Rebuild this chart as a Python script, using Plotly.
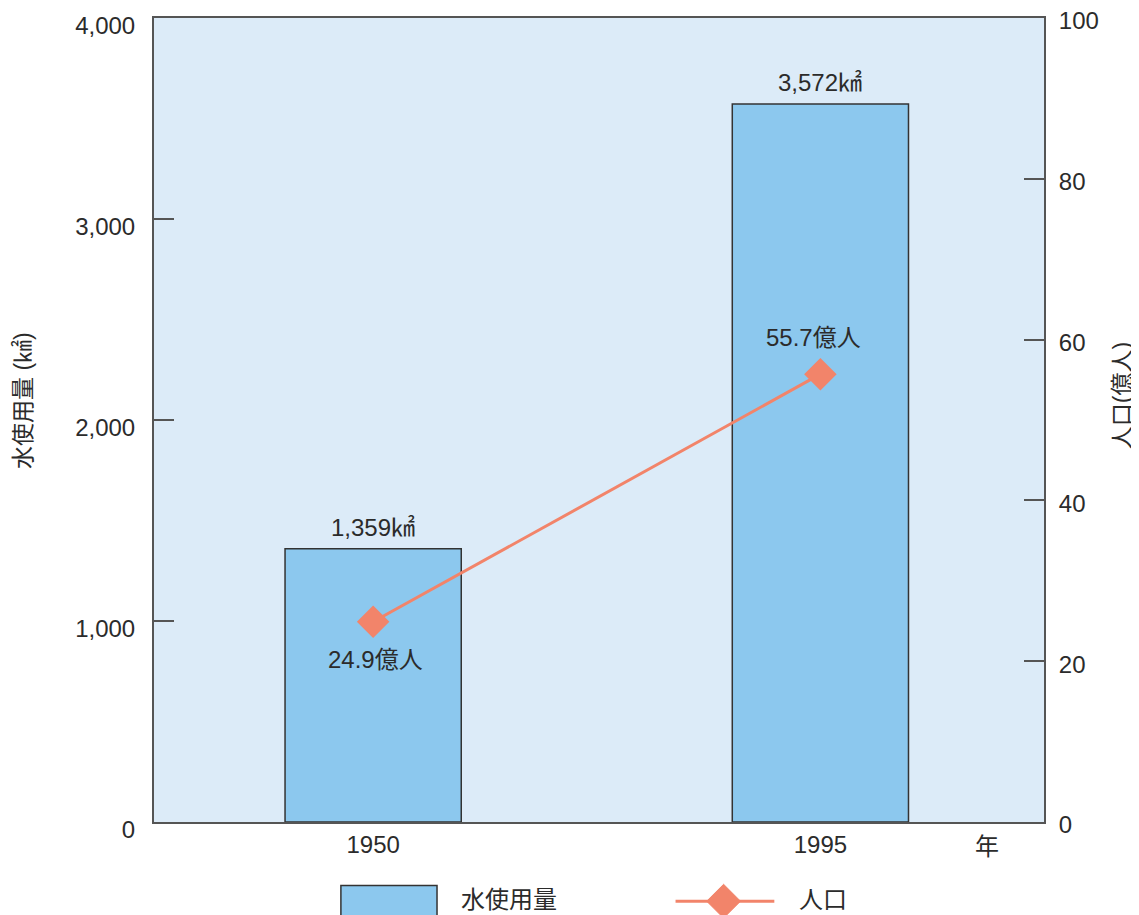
import plotly.graph_objects as go

years = ["1950", "1995"]
water_use = [1359, 3572]          # km^3
population = [24.9, 55.7]         # 億人
left_ticks = [0, 1000, 2000, 3000, 4000]
right_ticks = [0, 20, 40, 60, 80, 100]

FONT = "Liberation Sans, Arial, Noto Sans CJK JP"
TXT = "#2b2b2b"
BAR = "#8CC8EE"
BG = "#DCEBF8"
LINE = "#F2846A"
AX = "#555555"
FS = 24

fig = go.Figure()
fig.add_trace(go.Bar(x=years, y=water_use, width=0.394, marker=dict(color=BAR, line=dict(color="#333333", width=1.5)),
                     name="水使用量", showlegend=False))
fig.add_trace(go.Scatter(x=years, y=population, yaxis="y2", mode="lines+markers",
                         line=dict(color=LINE, width=3), marker=dict(symbol="diamond", size=25, color=LINE),
                         name="人口", showlegend=False))

ann = []
for i, v in enumerate(water_use):
    ann.append(dict(x=i, y=v, xref="x", yref="y", text=f"{v:,}㎢", showarrow=False,
                    yanchor="bottom", yshift=6, font=dict(size=FS, color=TXT, family=FONT)))
for i, p in enumerate(population):
    ann.append(dict(x=i, y=p, xref="x", yref="y2", text=f"{p}億人", showarrow=False,
                    yanchor="middle", yshift=(37 if i == 1 else -38), xshift=(-7 if i == 1 else 2),
                    font=dict(size=FS, color=TXT, family=FONT)))
# axis titles and unit
ann.append(dict(x=-0.148, y=0.524, xref="paper", yref="paper", text="水使用量 (㎢)", textangle=-90,
                showarrow=False, xanchor="center", yanchor="middle", font=dict(size=FS - 1, color=TXT, family=FONT)))
ann.append(dict(x=1.088, y=0.53, xref="paper", yref="paper", text="人口(億人)", textangle=-90,
                showarrow=False, xanchor="center", yanchor="middle", font=dict(size=FS - 1, color=TXT, family=FONT)))
ann.append(dict(x=0.936, y=-0.03, xref="paper", yref="paper", text="年", showarrow=False,
                xanchor="center", yanchor="middle", font=dict(size=FS, color=TXT, family=FONT)))
# legend texts
ann.append(dict(x=0.343, y=-0.097, xref="paper", yref="paper", text="水使用量", showarrow=False,
                xanchor="left", yanchor="middle", font=dict(size=FS, color=TXT, family=FONT)))
ann.append(dict(x=0.722, y=-0.097, xref="paper", yref="paper", text="人口", showarrow=False,
                xanchor="left", yanchor="middle", font=dict(size=FS, color=TXT, family=FONT)))

# legend symbols (paper coords)
cx, cy, hx, hy = 0.64, -0.0985, 0.019, 0.021
shapes = [
    dict(type="rect", xref="paper", yref="paper", x0=0.210, x1=0.318, y0=-0.079, y1=-0.13,
         fillcolor=BAR, line=dict(color="#333333", width=1.5)),
    dict(type="line", xref="paper", yref="paper", x0=0.586, x1=0.697, y0=cy, y1=cy,
         line=dict(color=LINE, width=3)),
    dict(type="path", xref="paper", yref="paper",
         path=f"M {cx-hx},{cy} L {cx},{cy+hy} L {cx+hx},{cy} L {cx},{cy-hy} Z",
         fillcolor=LINE, line=dict(color=LINE, width=1)),
]

# page body adds ~7px offset, so the figure is sized to fit the window
fig.update_layout(
    width=1132, height=908,
    margin=dict(l=146, r=96, t=10, b=94),
    paper_bgcolor="white", plot_bgcolor=BG,
    font=dict(family=FONT, size=FS, color=TXT),
    showlegend=False,
    annotations=ann, shapes=shapes,
    xaxis=dict(type="category", range=[-0.49, 1.5], showgrid=False, zeroline=False, automargin=False,
               showline=True, linecolor=AX, linewidth=2, mirror=True, ticks="",
               tickfont=dict(size=FS, color=TXT, family=FONT)),
    yaxis=dict(range=[0, 4000], tickvals=left_ticks, ticktext=[f"{t:,}" for t in left_ticks],
               showgrid=False, zeroline=False, showline=True, linecolor=AX, linewidth=2, automargin=False,
               ticks="inside", ticklen=20, tickwidth=1.5, tickcolor=AX,
               ticklabelstandoff=12, ticklabelshift=8, ticklabeloverflow="allow",
               tickfont=dict(size=FS, color=TXT, family=FONT)),
    yaxis2=dict(range=[0, 100], tickvals=right_ticks, overlaying="y", side="right",
                showgrid=False, zeroline=False, showline=True, linecolor=AX, linewidth=2, automargin=False,
                ticks="inside", ticklen=20, tickwidth=1.5, tickcolor=AX,
                ticklabelstandoff=8, ticklabelshift=3, ticklabeloverflow="allow",
                tickfont=dict(size=FS, color=TXT, family=FONT)),
)

fig.write_html("out.html")
